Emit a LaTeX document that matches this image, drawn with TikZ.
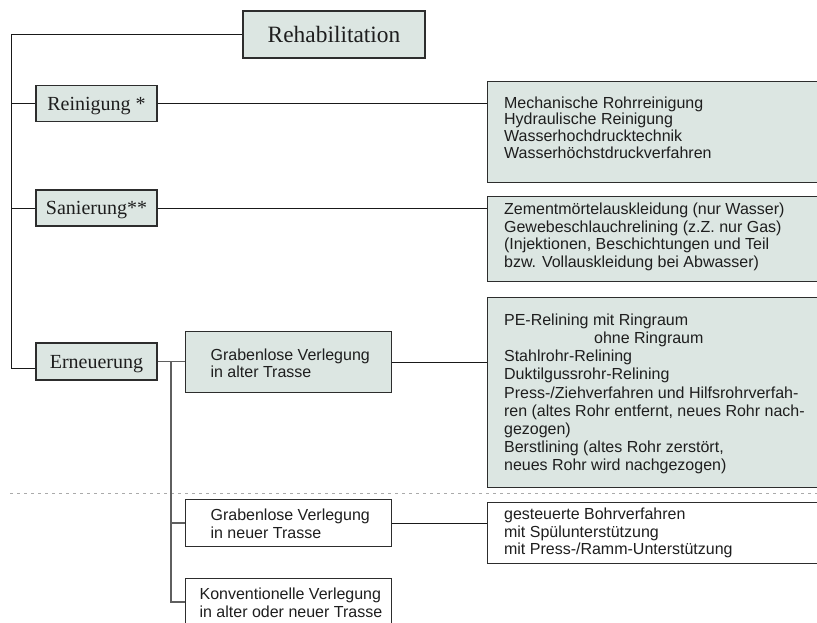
\documentclass[tikz,border=0pt]{standalone}
\usepackage{fontspec}
\setmainfont{Liberation Serif}
\newfontfamily\arialfont{Liberation Sans}
\definecolor{boxfill}{RGB}{220,230,226}
\definecolor{boxline}{RGB}{45,45,45}
\definecolor{txt}{RGB}{30,30,30}
\definecolor{branchgray}{RGB}{95,95,95}
\definecolor{dashgray}{RGB}{170,170,170}
% width, height, left pad, top pad, text, baselineskip
\newcommand{\tbx}[6]{\parbox[c][#2][t]{#1}{\arialfont\fontsize{16}{#6}\selectfont\leftskip=#3\relax\vspace*{#4}#5\par}}
\tikzset{
  serifbox/.style={draw=boxline, line width=1.2pt, fill=boxfill, inner sep=0pt,
    text=txt, text height=13.2pt, text depth=0pt, font=\fontsize{20}{22}\selectfont,
    minimum width=121pt, minimum height=36pt},
  greenbox/.style={draw=boxline, line width=1.2pt, fill=boxfill, inner sep=0pt, text=txt, anchor=north west},
  whitebox/.style={draw=boxline, line width=1.2pt, fill=white, inner sep=0pt, text=txt, anchor=north west},
  conn/.style={draw=black!90, line width=1pt},
  branch/.style={draw=branchgray, line width=1.5pt},
  sepline/.style={draw=dashgray, line width=1pt, dash pattern=on 3.3pt off 3.7pt}
}
\begin{document}
\begin{tikzpicture}[x=1pt,y=-1pt]
\clip (0,0) rectangle (817,622);
\fill[white] (0,0) rectangle (817,622);

% level 0 and level 1
\node[serifbox, minimum width=182pt, minimum height=47pt, text height=15.4pt,
      font=\fontsize{23.4}{25}\selectfont] (rehab) at (334,34.5) {Rehabilitation};
\node[serifbox] (rein) at (96.5,103.5) {Reinigung *};
\node[serifbox] (san) at (96.5,208) {Sanierung**};
\node[serifbox, minimum height=37pt] (ern) at (96.5,361.5) {Erneuerung};

% right detail boxes
\node[greenbox] (rB) at (487,81) {\tbx{345pt}{101pt}{16.5pt}{15pt}{Mechanische Rohrreinigung\\Hydraulische Reinigung\\Wasserhochdrucktechnik\\Wasserhöchstdruckverfahren}{16.8pt}};
\node[greenbox] (rC) at (487,196) {\tbx{345pt}{85pt}{16.5pt}{6pt}{Zementmörtelauskleidung (nur Wasser)\\Gewebeschlauchrelining (z.Z. nur Gas)\\(Injektionen, Beschichtungen und Teil\\bzw. Vollauskleidung bei Abwasser)}{17.8pt}};
\node[greenbox] (rD) at (487,297) {\tbx{345pt}{190pt}{16.5pt}{16pt}{PE-Relining mit Ringraum\\\hspace*{90pt}ohne Ringraum\\Stahlrohr-Relining\\Duktilgussrohr-Relining\\Press-/Ziehverfahren und Hilfsrohrverfah-\\ren (altes Rohr entfernt, neues Rohr nach-\\gezogen)\\Berstlining (altes Rohr zerstört,\\neues Rohr wird nachgezogen)}{18.2pt}};
\node[whitebox] (rE) at (487,502) {\tbx{345pt}{61pt}{16.5pt}{5.7pt}{gesteuerte Bohrverfahren\\mit Spülunterstützung\\mit Press-/Ramm-Unterstützung}{17.5pt}};

% level 2 boxes
\node[greenbox] (gA) at (185,331) {\tbx{206pt}{61pt}{25pt}{17.3pt}{Grabenlose Verlegung\\in alter Trasse}{17pt}};
\node[whitebox] (gF) at (185,499) {\tbx{206pt}{47pt}{25pt}{9.3pt}{Grabenlose Verlegung\\in neuer Trasse}{17.7pt}};
\node[whitebox] (gG) at (185,578) {\tbx{206pt}{66pt}{14pt}{9.7pt}{Konventionelle Verlegung\\in alter oder neuer Trasse}{17.7pt}};

% separator
\coordinate (sepL) at (10,493);
\coordinate (sepR) at (817,493);
\draw[sepline] (sepL) -- (sepR);

% trunk connectors
\coordinate (tl) at (11,34.5);
\coordinate (bl) at (11,368);
\draw[conn] (rehab.west) -- (tl) -- (bl) -- (bl -| ern.west);
\draw[conn] (tl |- rein.west) -- (rein.west);
\draw[conn] (tl |- san.west) -- (san.west);
\draw[conn] (rein.east) -- (rein.east -| rB.west);
\draw[conn] (san.east) -- (san.east -| rC.west);

% Erneuerung branch
\coordinate (br) at (171,361.5);
\coordinate (bend) at (171,602);
\draw[branch] (ern.east) -- (ern.east -| gA.west);
\draw[branch] (br) -- (bend) -- (bend -| gG.west);
\draw[branch] (br |- gF.west) -- (gF.west);
\draw[conn] (gA.east) -- (gA.east -| rD.west);
\draw[conn] (gF.east) -- (gF.east -| rE.west);
\end{tikzpicture}
\end{document}
